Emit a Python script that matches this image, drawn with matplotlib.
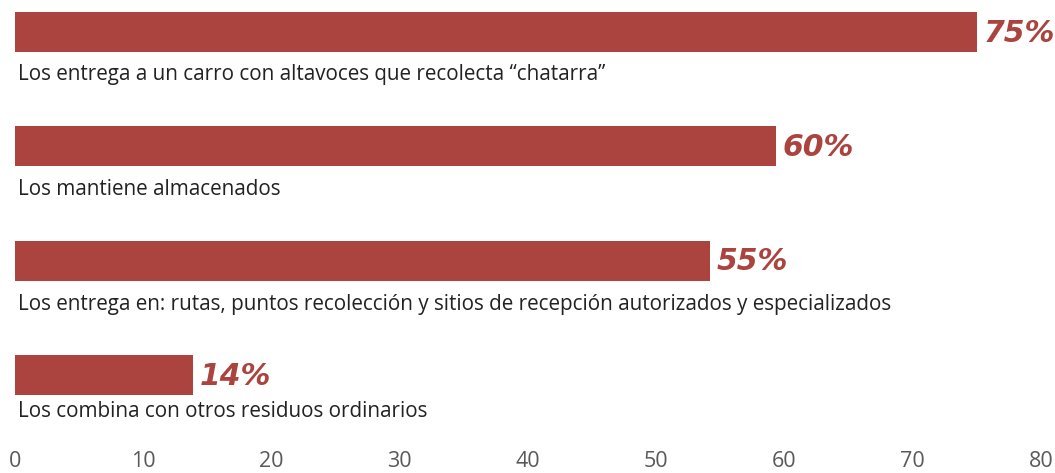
import matplotlib
matplotlib.use("Agg")
import matplotlib.pyplot as plt

# datos
categorias = [
    "Los entrega a un carro con altavoces que recolecta \u201cchatarra\u201d",
    "Los mantiene almacenados",
    "Los entrega en: rutas, puntos recolección y sitios de recepción autorizados y especializados",
    "Los combina con otros residuos ordinarios",
]
valores = [75, 59.3, 54.2, 13.9]
etiquetas = ["75%", "60%", "55%", "14%"]
ticks_x = [0, 10, 20, 30, 40, 50, 60, 70, 80]

COLOR_BARRA = "#AB433E"
COLOR_TEXTO = "#222222"
COLOR_TICKS = "#595959"

W, H = 1055, 473
fig = plt.figure(figsize=(W / 100, H / 100), dpi=100)
fig.patch.set_facecolor("white")

# ejes: x=0 en px 15, x=80 en px 1041; y de px 0 a px 450
ax = fig.add_axes([15 / W, 25 / H, 1026 / W, 448 / H])
paso = 114.3
ax.set_ylim((448 - 32) / paso, -32 / paso)
ax.set_xlim(0, 80)

pos = list(range(len(categorias)))
ax.barh(pos, valores, height=40 / paso, color=COLOR_BARRA, edgecolor="none")

# desplazamiento de la línea base de cada etiqueta bajo su barra
desp_etq = [0.42, 0.426, 0.432, 0.368]
for i, (cat, val, txt) in enumerate(zip(categorias, valores, etiquetas)):
    ax.text(0.2, i + desp_etq[i], cat, ha="left", va="baseline",
            fontsize=14.9, family="Open Sans", color=COLOR_TEXTO)
    ax.annotate(txt, xy=(val, i), xytext=(5, -1), textcoords="offset points",
                ha="left", va="center", fontsize=21.5, family="DejaVu Sans",
                fontweight="bold", style="italic", color=COLOR_BARRA)

ax.set_xticks(ticks_x)
ax.set_xticklabels([str(t) for t in ticks_x], family="Open Sans", fontsize=15.5,
                   color=COLOR_TICKS)
ax.set_yticks([])
ax.tick_params(axis="x", length=0, pad=2)
for s in ax.spines.values():
    s.set_visible(False)

fig.savefig("out.png", dpi=100, facecolor="white")
